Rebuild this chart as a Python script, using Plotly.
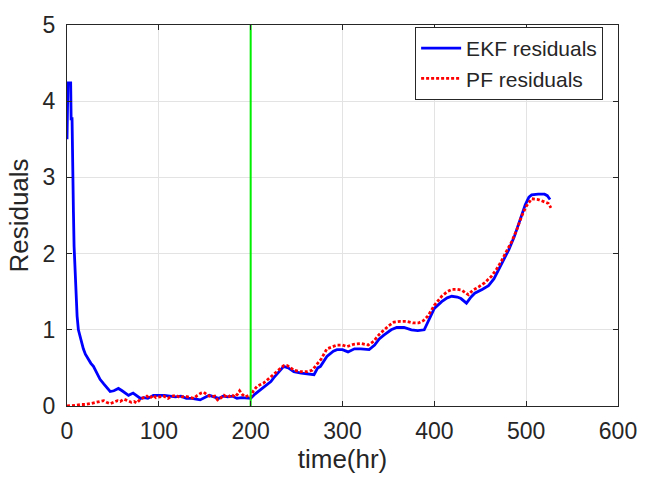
import plotly.graph_objects as go

# ---- data ----
ekf_t = [0, 0.5, 1, 4, 4.5, 5.5, 6, 7, 7.7, 8.7, 9.8, 11, 12.4, 15, 17.8, 20, 23, 26, 28.8, 32,
         36, 40, 44, 47, 51, 56, 60, 64, 67, 72, 76, 80, 84, 88, 94, 100, 106, 112, 118, 124,
         130, 136, 140, 145, 150, 155, 160, 165, 170, 175, 180, 185, 190, 196, 200,
         205, 214, 222, 225, 230, 236, 241, 247, 255, 261, 269, 273, 276, 283, 290, 294, 300,
         306, 313, 320, 329, 335, 340, 345, 348, 353, 359, 367, 375, 382, 389, 395, 400, 408,
         414, 419, 425, 429, 435, 440, 444, 452, 459, 465, 470, 476, 481, 487, 492, 496, 499,
         503, 506, 513, 520, 523, 526]
ekf_r = [3.5, 3.72, 4.24, 4.24, 3.77, 3.77, 3.13, 2.55, 2.1, 1.8, 1.4, 1.18, 1.0, 0.86, 0.75, 0.68, 0.61, 0.56, 0.52, 0.45,
         0.35, 0.29, 0.24, 0.19, 0.2, 0.23, 0.2, 0.17, 0.14, 0.17, 0.13, 0.1, 0.11, 0.1, 0.14, 0.14, 0.14, 0.13, 0.12, 0.13,
         0.1, 0.1, 0.09, 0.08, 0.11, 0.14, 0.12, 0.1, 0.13, 0.12, 0.13, 0.1, 0.11, 0.1, 0.1,
         0.16, 0.24, 0.32, 0.37, 0.44, 0.52, 0.5, 0.45, 0.43, 0.42, 0.41, 0.5, 0.52, 0.65, 0.72, 0.74, 0.74,
         0.71, 0.75, 0.75, 0.74, 0.8, 0.88, 0.93, 0.96, 1.0, 1.03, 1.03, 1.0, 0.99, 1.0, 1.15, 1.28, 1.37,
         1.42, 1.44, 1.43, 1.41, 1.35, 1.43, 1.48, 1.53, 1.58, 1.67, 1.79, 1.92, 2.05, 2.22, 2.4, 2.53, 2.64,
         2.74, 2.77, 2.78, 2.78, 2.76, 2.71]

pf_t = [0, 5, 10, 15, 20, 25, 30, 35, 40, 43, 47, 51, 55, 58, 62, 66, 70, 73, 76, 80,
        84, 87, 90, 94, 97, 101, 105, 110, 114, 119, 123, 128, 133, 138, 142, 146, 149, 153, 157, 161,
        164, 167, 171, 175, 179, 183, 186, 188, 191, 194, 198, 200,
        203, 207, 214, 221, 230, 236, 240, 247, 254, 262, 267, 272, 277, 283, 288, 294, 300, 305,
        312, 320, 328, 334, 340, 345, 350, 356, 363, 370, 377, 383, 388, 393, 400, 408, 414, 419,
        425, 430, 437, 442, 448, 455, 462, 468, 473, 479, 484, 490, 495, 500, 506, 513, 520, 524, 527]
pf_r = [0.0, 0.01, 0.01, 0.02, 0.02, 0.03, 0.04, 0.05, 0.07, 0.05, 0.03, 0.05, 0.07, 0.06, 0.09, 0.07, 0.05, 0.06, 0.04, 0.09,
        0.11, 0.13, 0.1, 0.14, 0.11, 0.12, 0.13, 0.1, 0.13, 0.14, 0.11, 0.13, 0.12, 0.1, 0.14, 0.17, 0.18, 0.14, 0.12, 0.13,
        0.08, 0.1, 0.14, 0.11, 0.15, 0.12, 0.16, 0.2, 0.15, 0.12, 0.14, 0.12,
        0.2, 0.26, 0.3, 0.37, 0.46, 0.53, 0.53, 0.47, 0.45, 0.45, 0.47, 0.55, 0.62, 0.75, 0.77, 0.8, 0.8, 0.78,
        0.81, 0.82, 0.8, 0.85, 0.94, 1.0, 1.05, 1.1, 1.11, 1.11, 1.09, 1.09, 1.12, 1.18, 1.32, 1.44, 1.5, 1.53,
        1.53, 1.52, 1.46, 1.52, 1.56, 1.62, 1.7, 1.8, 1.9, 2.04, 2.15, 2.32, 2.49, 2.62, 2.72, 2.71, 2.68, 2.66, 2.6]

change_time = 200
x_range = [0, 600]
y_range = [0, 5]
x_ticks = [0, 100, 200, 300, 400, 500, 600]
y_ticks = [0, 1, 2, 3, 4, 5]

axis_color = "#262626"
grid_color = "#e3e3e3"
font_family = "Liberation Sans, Arial, sans-serif"

fig = go.Figure()
fig.add_trace(go.Scatter(x=ekf_t, y=ekf_r, mode="lines", name="EKF residuals",
                         line=dict(color="#0000ff", width=2.8)))
fig.add_trace(go.Scatter(x=pf_t, y=pf_r, mode="lines", name="PF residuals",
                         line=dict(color="#ff0000", width=2.8, dash="3px,2px")))
fig.add_trace(go.Scatter(x=[change_time, change_time], y=y_range, mode="lines",
                         showlegend=False, hoverinfo="skip",
                         line=dict(color="#00ee00", width=2)))

axis_common = dict(showline=True, linecolor=axis_color, linewidth=1, mirror="ticks",
                   ticks="inside", ticklen=5, tickcolor=axis_color,
                   showgrid=True, gridcolor=grid_color, gridwidth=1, zeroline=False,
                   tickfont=dict(size=23, color=axis_color, family=font_family))

fig.update_xaxes(range=x_range, tickvals=x_ticks, ticklabelstandoff=4,
                 title=dict(text="time(hr)", font=dict(size=26, color=axis_color, family=font_family),
                            standoff=2),
                 **axis_common)
fig.update_yaxes(range=y_range, tickvals=y_ticks, ticklabelstandoff=6,
                 title=dict(text="Residuals", font=dict(size=26, color=axis_color, family=font_family),
                            standoff=6),
                 **axis_common)

fig.update_layout(
    width=654, height=477,
    margin=dict(l=67, r=36, t=13, b=71),
    paper_bgcolor="white", plot_bgcolor="white",
    font=dict(family=font_family, color=axis_color),
    legend=dict(x=0.973, y=0.995, xanchor="right", yanchor="top",
                bgcolor="white", bordercolor=axis_color, borderwidth=1,
                font=dict(size=21, color=axis_color, family=font_family),
                tracegroupgap=0, itemwidth=40),
)

fig.write_html("out.html")
